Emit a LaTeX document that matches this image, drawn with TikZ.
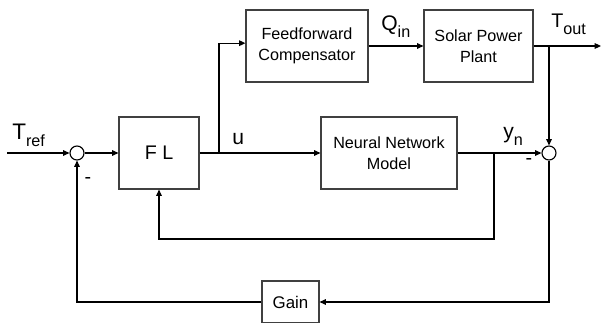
\documentclass[tikz,border=0pt]{standalone}
\usepackage{fontspec}
\setmainfont{Liberation Sans}
\usepackage{tikz}
\usetikzlibrary{arrows.meta,positioning}

\newcommand{\sublbl}[2]{#1\raisebox{-5.5pt}{\fontsize{11.5}{12}\selectfont #2}}

\begin{document}
\begin{tikzpicture}[
    x=0.025cm, y=-0.025cm,
    block/.style={
        rectangle, draw=black!75, line width=0.8pt, inner sep=0pt,
        minimum height=1.8cm, align=center,
        font=\fontsize{11.5}{15}\selectfont
    },
    sumpt/.style={circle, draw, line width=0.8pt, minimum size=0.35cm, inner sep=0pt},
    sig/.style={-{Triangle[length=4.5pt,width=4pt]}, line width=0.8pt},
    lbl/.style={anchor=base west, inner sep=0pt, font=\fontsize{15}{15}\selectfont}
]
\clip (0,0) rectangle (602,322);

% ブロック
\node[sumpt] (sumA) at (77,153) {};
\node[block, minimum width=2cm, font=\fontsize{14}{14}\selectfont] (fl) at (159,153) {F L};
\node[block, minimum width=3.05cm] (ff) at (307,46) {Feedforward\\Compensator};
\node[block, minimum width=2.725cm] (plant) at (478.5,46) {Solar Power\\Plant};
\node[block, minimum width=3.4cm] (nn) at (389,153) {Neural Network\\Model};
\node[sumpt] (sumB) at (549,153) {};
\node[block, minimum width=1.425cm, minimum height=1.05cm, font=\fontsize{12}{12}\selectfont] (gain) at (290.5,302) {Gain};

% 分岐点
\coordinate (tin) at (7,153);
\coordinate (ubr) at (219,153);
\coordinate (tbr) at (549,46);
\coordinate (tend) at (601,46);
\coordinate (ybr) at (494,153);
\coordinate (fbk) at (494,239);

% 信号線
\draw[sig] (tin) -- (sumA);
\draw[sig] (sumA) -- (fl);
\draw[sig] (fl) -- (nn);
\draw[sig] (ubr) |- ([yshift=2pt]ff.west);
\draw[sig] (ff) -- (plant);
\draw[sig] (plant) -- (tend);
\draw[sig] (tbr) -- (sumB);
\draw[sig] (nn) -- (sumB);
\draw[sig] (ybr) -- (fbk) -| (fl.south);
\draw[sig] (sumB.south) |- (gain.east);
\draw[sig] (gain.west) -| (sumA.south);

% ラベル
\node[lbl, font=\fontsize{16}{16}\selectfont] (tref) at (12,139) {\sublbl{T}{ref}};
\node[lbl] (ulbl) at (232,144) {u};
\node[lbl] (qin) at (381,30) {\sublbl{Q}{in}};
\node[lbl, font=\fontsize{14}{14}\selectfont] (tout) at (551,27) {\sublbl{T}{out}};
\node[lbl] (yn) at (503,138) {\sublbl{y}{n}};
\node[font=\fontsize{14}{14}\selectfont] (mA) at (88,180) {-};
\node[font=\fontsize{14}{14}\selectfont] (mB) at (529,161) {-};

\end{tikzpicture}
\end{document}
